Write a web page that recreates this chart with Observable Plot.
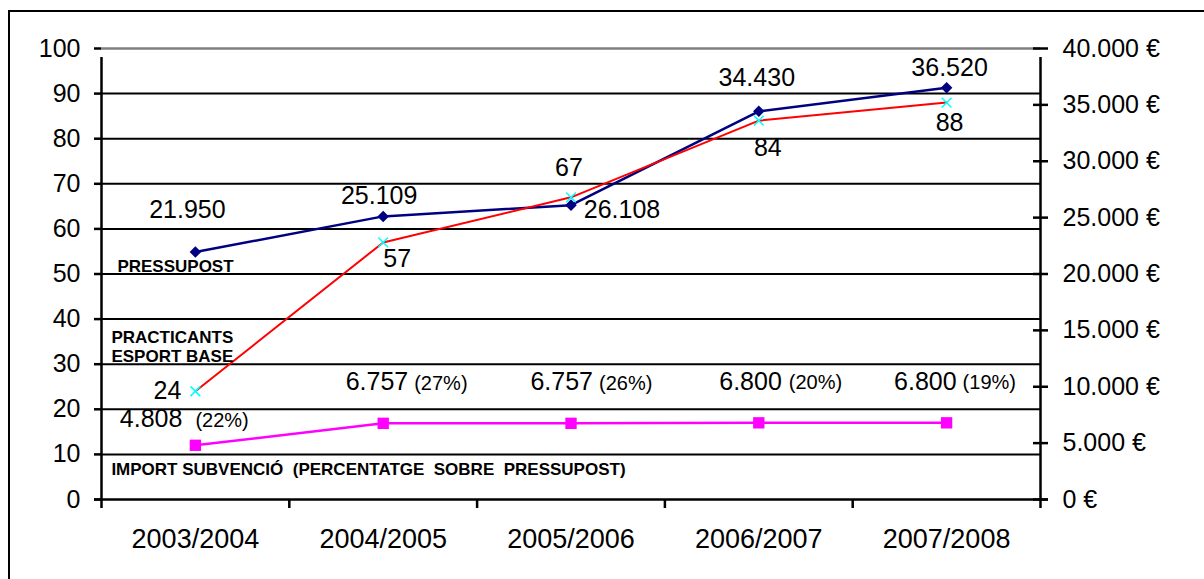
<!DOCTYPE html>
<html><head><meta charset="utf-8">
<script src="https://cdn.jsdelivr.net/npm/d3@7"></script>
<script src="https://cdn.jsdelivr.net/npm/@observablehq/plot@0.6"></script>
<style>
body{margin:0;background:#fff;overflow:hidden;font-family:"Liberation Sans",Arial,sans-serif}
#chart{position:absolute;left:0;top:0}
#frame{position:absolute;left:8px;top:10px;width:1300px;height:700px;border:2.5px solid #000;pointer-events:none}
</style></head><body>
<div id="chart"></div><div id="frame"></div>
<script>
// ---- data ----
const seasons = ["2003/2004","2004/2005","2005/2006","2006/2007","2007/2008"];
const pressupost = [21950, 25109, 26108, 34430, 36520];   // € (right axis)
const practicants = [24, 57, 67, 84, 88];                  // left axis
const subvencio = [4808, 6757, 6757, 6800, 6800];          // € (right axis)
const subvencioPct = [22, 27, 26, 20, 19];                 // % of pressupost
const leftTicks = [0,10,20,30,40,50,60,70,80,90,100];
const rightTicks = [0,5000,10000,15000,20000,25000,30000,35000,40000];
const seriesNames = ["PRESSUPOST", "PRACTICANTS\nESPORT BASE", "IMPORT SUBVENCIÓ  (PERCENTATGE  SOBRE  PRESSUPOST)"];

// ---- label layout (pixel offsets relative to each point) ----
const pressOff = [[-8,-42],[-4,-20],[51,5],[-2,-33],[3,-20]];
const practOff = [[-28,0],[14,17],[-2,-29],[9,27],[3,20]];
const subvOff = [[-13,0,-26],[25,31,-41],[22,28,-41],[23,30,-41],[10,16,-41]]; // numberEndDx, pctStartDx, dy

const ratio = rightTicks[rightTicks.length-1] / leftTicks[leftTicks.length-1];
const fmt = d3.formatLocale({decimal: ",", thousands: ".", grouping: [3], currency: ["", ""]}).format(",.0f");
const n = seasons.length;
const idx = d3.range(n);
const cx = i => i + 0.5;
const FONT = "'Liberation Sans', Arial, sans-serif";

const marks = [
  // gridlines
  Plot.ruleY(leftTicks.filter(d => d > 0 && d < 100), {stroke: "#000", strokeWidth: 2}),
  Plot.ruleY([leftTicks[leftTicks.length-1]], {stroke: "#808080", strokeWidth: 2.5}),
  // axis lines
  Plot.ruleY([0], {stroke: "#000", strokeWidth: 2.5, insetLeft: -7, insetRight: -8}),
  Plot.ruleX([0, n], {y1: 0, y2: 100, stroke: "#000", strokeWidth: 2.5, insetBottom: -9}),
  // bottom boundary ticks
  Plot.ruleX(d3.range(n + 1), {y1: 0, y2: 0, stroke: "#000", strokeWidth: 2.5, insetBottom: -9}),
  // right axis crossing ticks
  Plot.ruleY(rightTicks.map(v => v / ratio), {x1: n, x2: n, stroke: "#000", strokeWidth: 2.5, insetLeft: -7, insetRight: -8}),
  // axes
  Plot.axisY({ticks: leftTicks, tickSize: 7, tickPadding: 14, strokeWidth: 2.5, fontSize: 25, tickFormat: d => String(d)}),
  Plot.axisY({anchor: "right", ticks: rightTicks.map(v => v / ratio), tickSize: 0, tickPadding: 22, fontSize: 25,
              tickFormat: d => fmt(d * ratio) + "\u00a0€"}),
  Plot.axisX({ticks: idx.map(cx), tickSize: 0, tickPadding: 29, fontSize: 27,
              tickFormat: d => seasons[Math.floor(d)], style: "letter-spacing:0.5px"}),
  // PRESSUPOST
  Plot.line(idx, {x: cx, y: i => pressupost[i] / ratio, stroke: "#000080", strokeWidth: 2.5}),
  Plot.dot(idx, {x: cx, y: i => pressupost[i] / ratio, symbol: "square", rotate: 45, r: 4.6, fill: "#000080", stroke: "none"}),
  // PRACTICANTS
  Plot.line(idx, {x: cx, y: i => practicants[i], stroke: "#FF0000", strokeWidth: 2}),
  Plot.dot(idx, {x: cx, y: i => practicants[i], symbol: "times", r: 4.5, stroke: "#00FFFF", strokeWidth: 1.5}),
  // SUBVENCIO
  Plot.line(idx, {x: cx, y: i => subvencio[i] / ratio, stroke: "#FF00FF", strokeWidth: 2.5}),
  Plot.dot(idx, {x: cx, y: i => subvencio[i] / ratio, symbol: "square", r: 6.4, fill: "#FF00FF", stroke: "none"}),
  // series names
  Plot.text([0], {x: cx, y: i => pressupost[i] / ratio, text: () => seriesNames[0], textAnchor: "start",
                  dx: -78, dy: 15, fontSize: 17, fontWeight: "bold", style: "letter-spacing:0.3px"}),
  Plot.text([0], {x: cx, y: i => practicants[i], text: () => seriesNames[1], textAnchor: "start", lineHeight: 1.12,
                  dx: -84, dy: -45, fontSize: 17, fontWeight: "bold"}),
  Plot.text([0], {x: cx, y: i => subvencio[i] / ratio, text: () => seriesNames[2], textAnchor: "start",
                  dx: -84, dy: 24, fontSize: 17, fontWeight: "bold", style: "white-space:pre;letter-spacing:0.18px"}),
  // value labels
  ...idx.map(i => Plot.text([i], {x: cx, y: j => pressupost[j] / ratio, text: j => fmt(pressupost[j]),
                                  dx: pressOff[i][0], dy: pressOff[i][1], fontSize: 25})),
  ...idx.map(i => Plot.text([i], {x: cx, y: j => practicants[j], text: j => String(practicants[j]),
                                  dx: practOff[i][0], dy: practOff[i][1], fontSize: 25})),
  ...idx.map(i => Plot.text([i], {x: cx, y: j => subvencio[j] / ratio, text: j => fmt(subvencio[j]), textAnchor: "end",
                                  dx: subvOff[i][0], dy: subvOff[i][2], fontSize: 25})),
  ...idx.map(i => Plot.text([i], {x: cx, y: j => subvencio[j] / ratio, text: j => "(" + subvencioPct[j] + "%)", textAnchor: "start",
                                  dx: subvOff[i][1], dy: subvOff[i][2] + 1, fontSize: 20})),
];

const chart = Plot.plot({
  width: 1204, height: 579,
  marginLeft: 101, marginRight: 164, marginTop: 48, marginBottom: 80,
  x: {type: "linear", domain: [0, n]},
  y: {domain: [0, 100]},
  style: {fontFamily: FONT, color: "#000", background: "transparent", overflow: "visible"},
  marks
});
document.getElementById("chart").appendChild(chart);
</script>
</body></html>
